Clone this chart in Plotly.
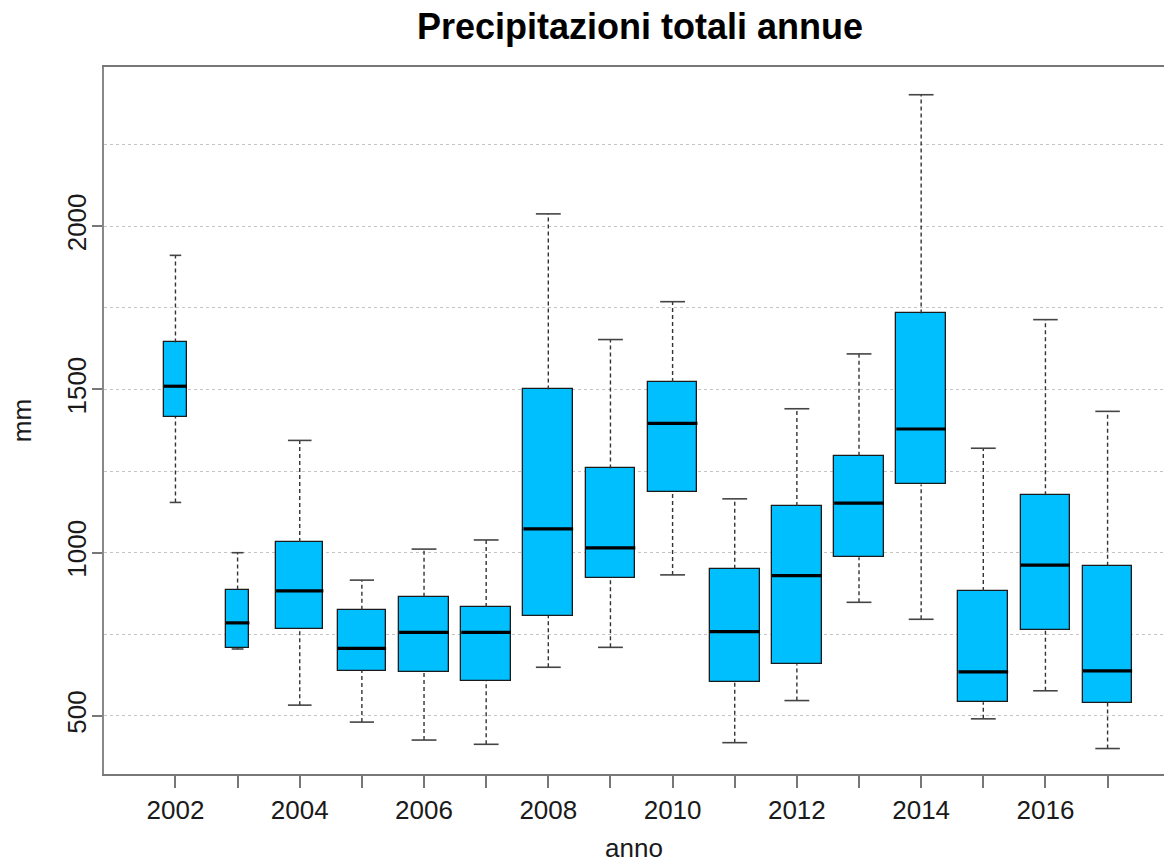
import plotly.graph_objects as go

# ---- data ----
years = [2002, 2003, 2004, 2005, 2006, 2007, 2008, 2009,
         2010, 2011, 2012, 2013, 2014, 2015, 2016, 2017]
upper_whisker = [1911, 1000, 1344, 916, 1011, 1039, 2038, 1653,
                 1769, 1165, 1441, 1609, 2403, 1320, 1714, 1433]
q3 = [1644, 887, 1033, 825, 865, 834, 1500, 1258,
      1523, 951, 1143, 1297, 1733, 883, 1176, 960]
median = [1510, 785, 883, 707, 756, 756, 1073, 1015,
          1396, 758, 930, 1152, 1379, 635, 962, 638]
q1 = [1416, 708, 766, 639, 635, 608, 807, 923,
      1185, 603, 658, 986, 1209, 542, 763, 541]
lower_whisker = [1154, 705, 533, 481, 426, 413, 649, 710,
                 932, 418, 547, 848, 796, 491, 577, 400]

# variable box widths (varwidth-style), in axis units
box_widths = [0.37, 0.38, 0.76, 0.78, 0.80, 0.80, 0.80, 0.80,
              0.80, 0.80, 0.80, 0.80, 0.80, 0.80, 0.79, 0.79]

y_tick_vals = [500, 1000, 1500, 2000]
y_grid_minor = [750, 1250, 1750, 2250]
x_tick_vals = [2002, 2004, 2006, 2008, 2010, 2012, 2014, 2016]
x_minor_ticks = [2003, 2005, 2007, 2009, 2011, 2013, 2015, 2017]

FONT = "Liberation Sans, Arial, Helvetica, sans-serif"
BOX_FILL = "#00BFFF"
EDGE = "#1a1a1a"

fig = go.Figure()

# box bodies
fig.add_trace(go.Bar(
    x=years, base=q1, y=[a - b for a, b in zip(q3, q1)], width=box_widths,
    marker=dict(color=BOX_FILL, line=dict(color=EDGE, width=1.3)),
    hoverinfo="skip", showlegend=False,
))

# whiskers (dashed)
wx, wy = [], []
for yr, lo, a, b, hi in zip(years, lower_whisker, q1, q3, upper_whisker):
    wx += [yr, yr, None, yr, yr, None]
    wy += [b, hi, None, lo, a, None]
fig.add_trace(go.Scatter(
    x=wx, y=wy, mode="lines",
    line=dict(color="#333333", width=1.4, dash="4px,3px"),
    hoverinfo="skip", showlegend=False,
))

# whisker caps
cx, cy = [], []
for yr, w, lo, hi in zip(years, box_widths, lower_whisker, upper_whisker):
    h = w / 4
    cx += [yr - h, yr + h, None, yr - h, yr + h, None]
    cy += [hi, hi, None, lo, lo, None]
fig.add_trace(go.Scatter(
    x=cx, y=cy, mode="lines",
    line=dict(color="#444444", width=1.6),
    hoverinfo="skip", showlegend=False,
))

# medians (thick black)
mx, my = [], []
for yr, w, m in zip(years, box_widths, median):
    mx += [yr - w / 2, yr + w / 2, None]
    my += [m, m, None]
fig.add_trace(go.Scatter(
    x=mx, y=my, mode="lines",
    line=dict(color="black", width=3.2),
    hoverinfo="skip", showlegend=False,
))

fig.update_layout(
    width=1164, height=863,
    margin=dict(l=104, r=0, t=67, b=89),
    paper_bgcolor="white", plot_bgcolor="white",
    font=dict(family=FONT, size=26, color="#1a1a1a"),
    title=dict(
        text="<b>Precipitazioni totali annue</b>",
        font=dict(family=FONT, size=36, color="black"),
        xref="container", yref="container",
        x=0.5498, xanchor="center", y=1 - 26 / 863, yanchor="middle",
    ),
    bargap=0,
)

fig.update_xaxes(
    range=[2000.85, 2017.908],
    tickmode="array", tickvals=x_tick_vals,
    ticks="outside", ticklen=12, tickwidth=2, tickcolor="#777777",
    minor=dict(tickmode="array", tickvals=x_minor_ticks, ticks="outside",
               ticklen=12, tickwidth=2, tickcolor="#777777", showgrid=False),
    showline=True, linecolor="#777777", linewidth=2, mirror=True,
    showgrid=False, zeroline=False,
    tickfont=dict(size=26, color="#1a1a1a"),
    title=dict(text="anno", font=dict(size=26, color="#1a1a1a"), standoff=20),
)

fig.update_yaxes(
    range=[322, 2488],
    tickmode="array", tickvals=y_tick_vals, tickangle=-90,
    ticks="outside", ticklen=10, tickwidth=2, tickcolor="#777777",
    ticklabelstandoff=-4,
    showline=True, linecolor="#888888", linewidth=2, mirror=False,
    showgrid=True, gridcolor="#c4c4c4", gridwidth=1, griddash="dot",
    minor=dict(tickmode="array", tickvals=y_grid_minor, showgrid=True,
               gridcolor="#c4c4c4", gridwidth=1, griddash="dot", ticks=""),
    zeroline=False,
    tickfont=dict(size=26, color="#1a1a1a"),
    title=dict(text="mm", font=dict(size=26, color="#1a1a1a"), standoff=22),
)

fig.write_html("out.html")
